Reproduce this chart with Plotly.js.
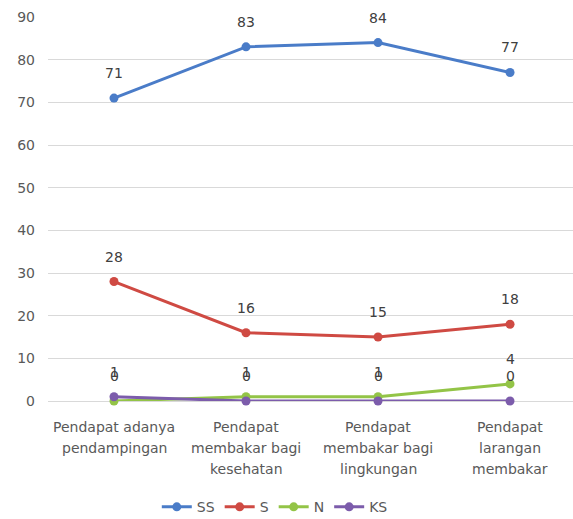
<!DOCTYPE html>
<html>
<head>
<meta charset="utf-8">
<script src="https://cdn.plot.ly/plotly-3.0.1.min.js"></script>
<style>html,body{margin:0;padding:0;background:#fff;}#chart{width:573px;height:519px;}</style>
</head>
<body>
<div id="chart"></div>
<script>
const categories = [
  "Pendapat adanya<br>pendampingan",
  "Pendapat<br>membakar bagi<br>kesehatan",
  "Pendapat<br>membakar bagi<br>lingkungan",
  "Pendapat<br>larangan<br>membakar"
];
const seriesNames = ["SS", "S", "N", "KS"];
const SS = [71, 83, 84, 77];
const S = [28, 16, 15, 18];
const N = [0, 1, 1, 4];
const KS = [1, 0, 0, 0];
const yTicks = [0, 10, 20, 30, 40, 50, 60, 70, 80, 90];

const colors = ["#4a7cc8", "#cf4a43", "#93c447", "#7c5cab"];
const values = [SS, S, N, KS];
const xIdx = categories.map((c, i) => i);
const FONT = "DejaVu Sans, Verdana, sans-serif";

const traces = values.map((v, k) => ({
  type: "scatter",
  mode: "lines+markers",
  name: seriesNames[k],
  x: xIdx,
  y: v,
  line: {color: colors[k], width: 3},
  marker: {color: colors[k], size: 9},
  cliponaxis: false
}));

const annotations = [];
// data labels
values.forEach((v, k) => {
  v.forEach((val, i) => {
    annotations.push({
      x: i, y: val, xref: "x", yref: "y",
      text: String(val), showarrow: false,
      xanchor: "center", yanchor: "middle", yshift: 25,
      font: {family: FONT, size: 14, color: "#404040"}
    });
  });
});
// category labels (line by line)
categories.forEach((c, i) => {
  c.split("<br>").forEach((line, j) => {
    annotations.push({
      x: i, y: 0, xref: "x", yref: "paper",
      text: line, showarrow: false,
      xanchor: "center", yanchor: "middle", yshift: -26 - 21 * j,
      font: {family: FONT, size: 14, color: "#595959"}
    });
  });
});

const layout = {
  width: 573, height: 519,
  margin: {l: 48, r: 0, t: 17, b: 118, autoexpand: false},
  paper_bgcolor: "#fff", plot_bgcolor: "#fff",
  font: {family: FONT, size: 14, color: "#595959"},
  showlegend: true,
  legend: {orientation: "h", x: 0.432, xanchor: "center", y: -0.235, yanchor: "top",
           font: {family: FONT, size: 14, color: "#595959"}, itemwidth: 30, tracegroupgap: 0},
  annotations: annotations,
  xaxis: {
    range: [-0.5, 3.477],
    tickmode: "array", tickvals: xIdx, ticktext: xIdx.map(() => ""),
    showgrid: false, zeroline: false, showline: false, ticks: "",
    fixedrange: true
  },
  yaxis: {
    range: [0, 90],
    tickmode: "array", tickvals: yTicks, ticktext: yTicks.map(String),
    showgrid: true, gridcolor: "#d9d9d9", gridwidth: 1,
    zeroline: true, zerolinecolor: "#d9d9d9", zerolinewidth: 1,
    showline: false, ticks: "", ticklabelstandoff: 12,
    tickfont: {family: FONT, size: 14, color: "#595959"}, fixedrange: true
  }
};

Plotly.newPlot("chart", traces, layout, {displayModeBar: false, staticPlot: true});
</script>
</body>
</html>
